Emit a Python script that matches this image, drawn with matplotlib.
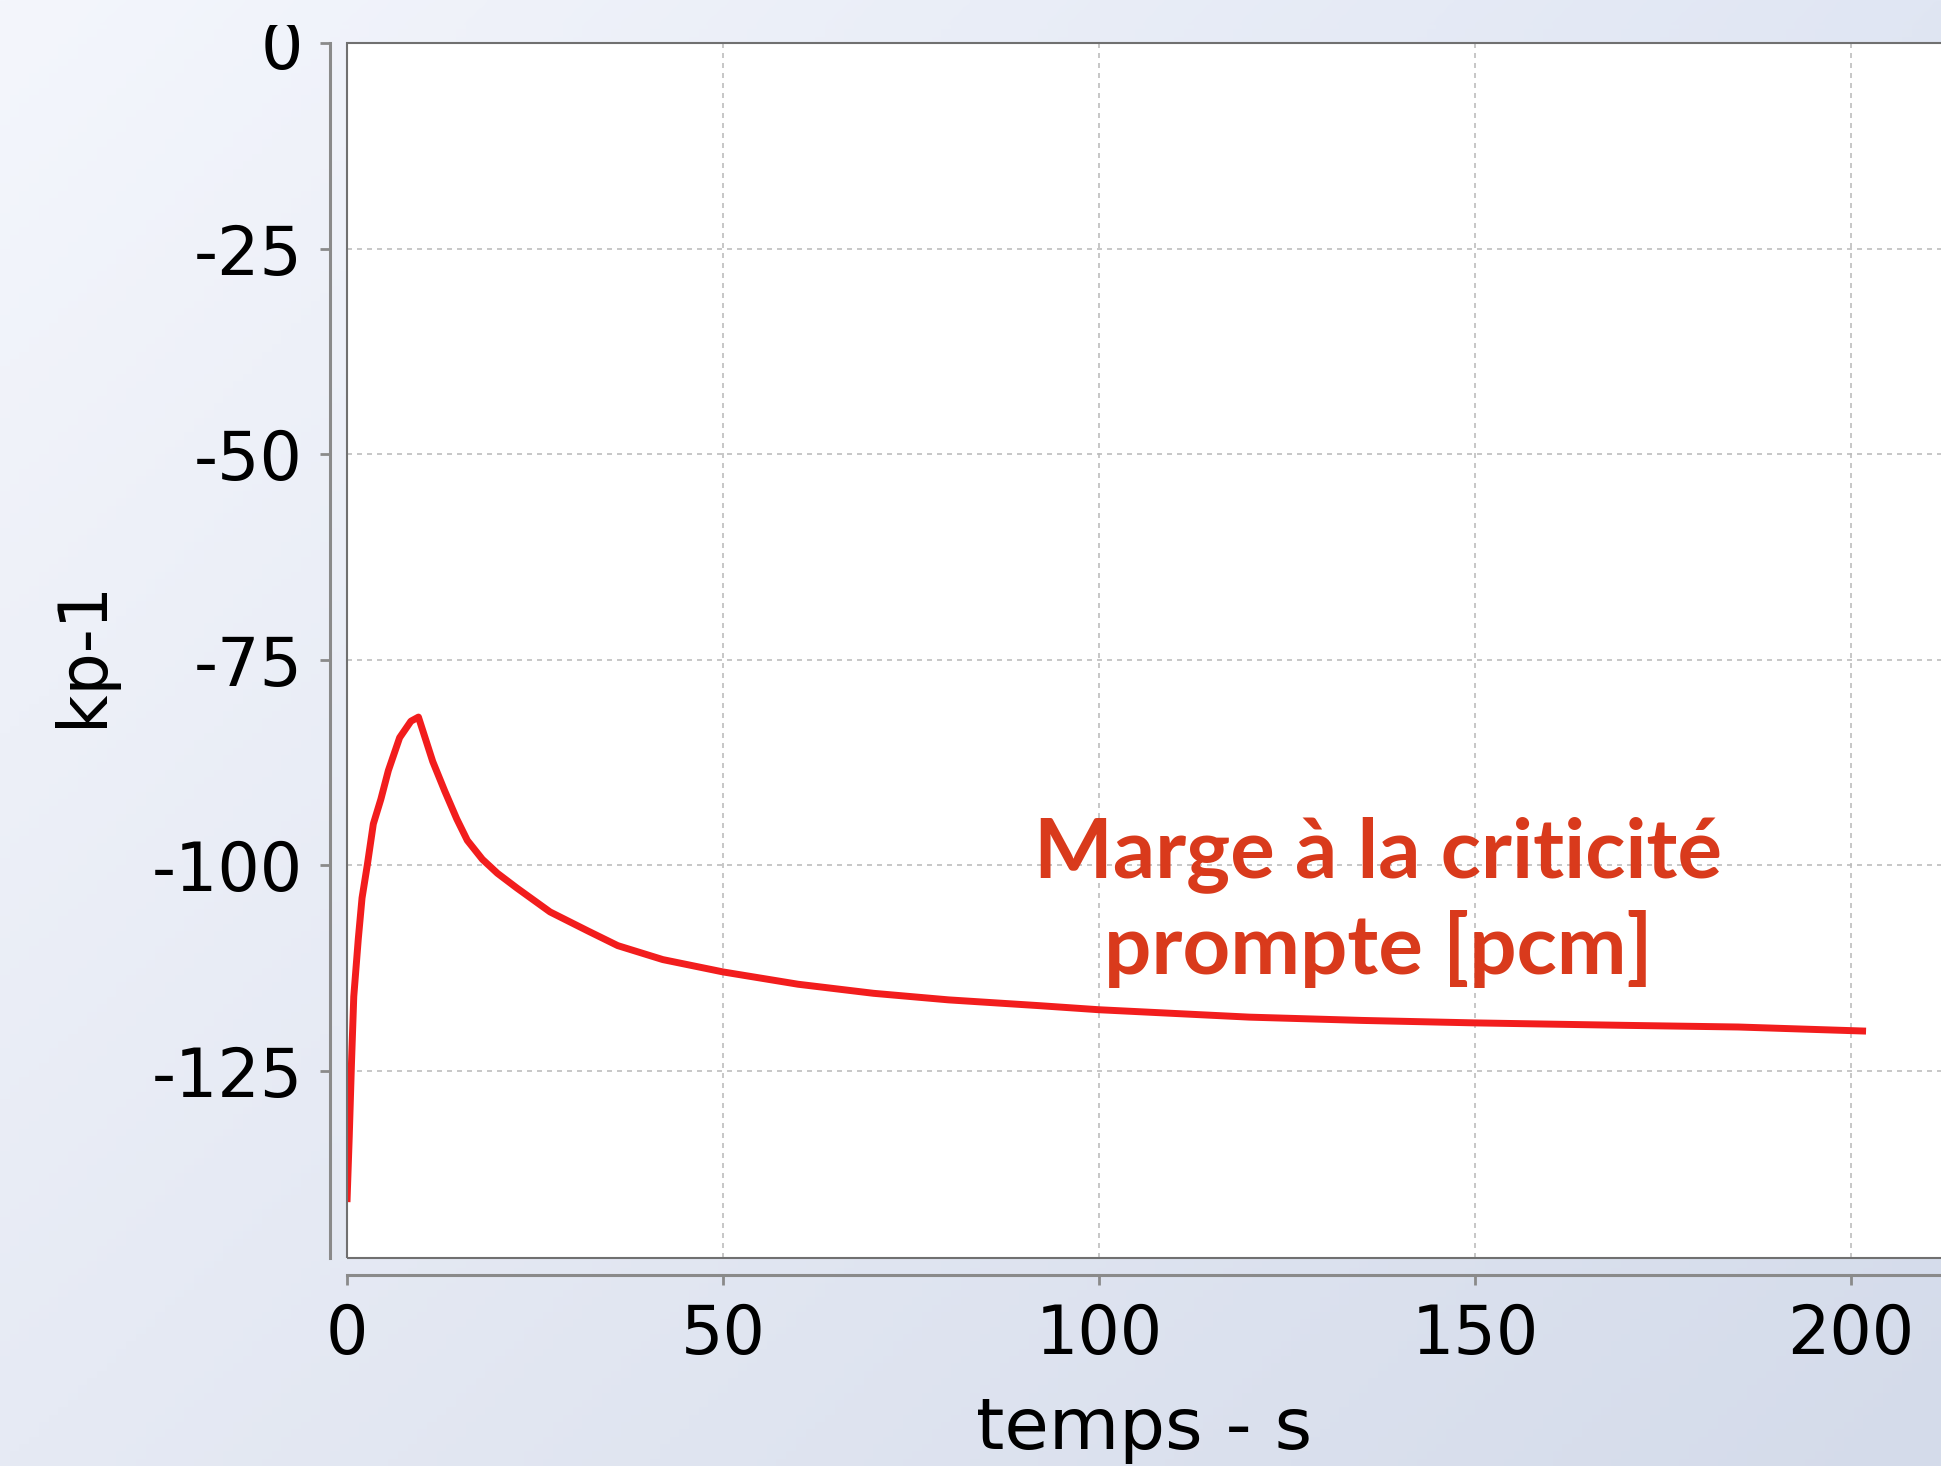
import numpy as np
import matplotlib
matplotlib.use("Agg")
import matplotlib.pyplot as plt
from matplotlib.patches import Rectangle

plt.rcParams["axes.unicode_minus"] = False

# time (s) and prompt-criticality margin (pcm)
temps = [0, 0.3, 0.6, 0.9, 1.5, 2.0, 2.7, 3.5, 4.5, 5.5, 7.0, 8.5, 9.5,
         11.4, 13, 14.6, 16, 18, 20, 22.6, 27, 32, 36, 42, 50,
         60, 70, 80, 92, 100, 120, 135, 150, 170, 185, 202]
marge = [-141, -133, -124, -116, -109, -104, -100, -95, -92, -88.5, -84.5, -82.5, -82,
         -87.4, -91, -94.4, -97, -99.3, -101, -102.8, -105.7, -108, -109.8, -111.5, -113,
         -114.5, -115.6, -116.4, -117.1, -117.6, -118.5, -118.9, -119.2, -119.5, -119.7, -120.2]

x_ticks = [0, 50, 100, 150, 200]
y_ticks = [0, -25, -50, -75, -100, -125]
annotation_lines = ["Marge à la criticité", "prompte [pcm]"]

W, H = 1941, 1466
DPI = 100
fig = plt.figure(figsize=(W / DPI, H / DPI), dpi=DPI)


def gradient(rows, cols, v0=0.0, v1=1.0):
    tl = np.array([244, 246, 252]) / 255
    tr = np.array([224, 230, 243]) / 255
    bl = np.array([230, 234, 244]) / 255
    br = np.array([212, 219, 234]) / 255
    u = np.linspace(0, 1, cols)[None, :, None]
    v = np.linspace(v0, v1, rows)[:, None, None]
    top = tl * (1 - u) + tr * u
    bot = bl * (1 - u) + br * u
    return top * (1 - v) + bot * v


bg = fig.add_axes([0, 0, 1, 1], zorder=-1)
bg.imshow(gradient(200, 200), extent=[0, 1, 0, 1], aspect="auto")
bg.axis("off")

# plot box: left edge at x=0, top at y=0, right edge past the figure
left, right_px = 347, 347 + 215 * 7.52
top_px, bot_px = 43, 1258
ax = fig.add_axes([left / W, 1 - bot_px / H, (right_px - left) / W, (bot_px - top_px) / H])
ax.set_facecolor("white")
ax.set_xlim(0, 215)
ax.set_ylim(-147.8, 0)

ax.grid(True, color="#bdbdbd", lw=1.2, ls=(0, (3, 3)))
ax.set_axisbelow(True)

ax.plot(temps, marge, color="#f21d1d", lw=5, solid_joinstyle="round",
        solid_capstyle="butt", zorder=4)

for i, line in enumerate(annotation_lines):
    ax.text(137.1, [-101.5, -113.3][i], line, ha="center", va="baseline",
            fontsize=60, fontweight="bold", family="Lato", color="#d93a1c", zorder=5)

for side in ["top", "right"]:
    ax.spines[side].set_visible(False)
for side in ["left", "bottom"]:
    ax.spines[side].set_position(("outward", 12))
    ax.spines[side].set_color("#8a8a8a")
    ax.spines[side].set_linewidth(2.2)

ax.add_patch(Rectangle((0, 0), 1, 1, transform=ax.transAxes, fill=False,
                       ec="#707070", lw=1.5, clip_on=False, zorder=6))

ax.set_xticks(x_ticks)
ax.set_yticks(y_ticks)
ax.tick_params(axis="both", direction="out", length=7, width=2, color="#8a8a8a",
               labelsize=48, labelcolor="black")
ax.tick_params(axis="x", pad=13)
ax.tick_params(axis="y", pad=13)

ax.set_xlabel("temps - s", fontsize=52, va="center")
ax.xaxis.set_label_coords((1144 - left) / (right_px - left), (bot_px - 1430) / (bot_px - top_px))
ax.set_ylabel("kp-1", fontsize=48, va="center")
ax.yaxis.set_label_coords((83 - left) / (right_px - left), (bot_px - 653) / (bot_px - top_px))

# the top band of the slide hides the upper part of the "0" label
strip_h = 25
strip = fig.add_axes([0, 1 - strip_h / H, 1, strip_h / H], zorder=5)
strip.imshow(gradient(10, 200, 0, strip_h / H), extent=[0, 1, 0, 1], aspect="auto")
strip.axis("off")

fig.savefig("out.png", dpi=DPI)
